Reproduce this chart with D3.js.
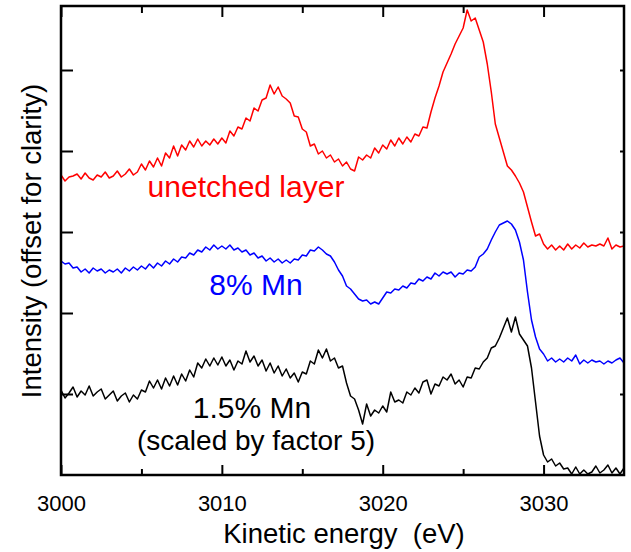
<!DOCTYPE html>
<html>
<head>
<meta charset="utf-8">
<script src="https://cdn.jsdelivr.net/npm/d3@7"></script>
<style>
  html, body { margin: 0; padding: 0; background: #fff; }
  svg { display: block; font-family: "Liberation Sans", Arial, Helvetica, sans-serif; }
</style>
</head>
<body>
<svg id="chart" width="631" height="552"></svg>
<script>
// ---------- data ----------
const energyStart = 3000;      // eV, first sample
const energyStep = 0.25;       // eV, sample spacing
const xDomain = [3000, 3035];
const yDomain = [0, 469];      // arbitrary intensity units (offset for clarity)
const xMajorTicks = [3000, 3010, 3020, 3030];
const xMinorTicks = [3005, 3015, 3025];
const yTicks = [81, 162, 243, 324, 405];

const unetched = [
  300, 294, 298, 299, 301, 296, 302, 297, 295, 300,
  298, 303, 297, 299, 304, 298, 301, 306, 300, 303,
  311, 305, 314, 308, 317, 309, 322, 317, 329, 319,
  330, 325, 334, 328, 336, 329, 334, 330, 336, 331,
  337, 332, 344, 339, 348, 346, 357, 354, 367, 364,
  375, 377, 390, 381, 388, 379, 376, 372, 359, 358,
  346, 343, 329, 331, 321, 324, 317, 320, 313, 316,
  309, 313, 306, 304, 318, 315, 320, 317, 327, 322,
  330, 326, 335, 329, 337, 331, 338, 333, 341, 339,
  348, 347, 363, 377, 389, 403, 412, 421, 431, 439,
  447, 465, 454, 457, 445, 433, 411, 383, 351, 337,
  323, 309, 305, 299, 292, 283, 268, 253, 239, 241,
  231, 226, 230, 225, 229, 225, 231, 226, 230, 227,
  232, 228, 230, 229, 231, 229, 237, 226, 230, 228, 229
];

const mn8 = [
  214, 211, 212, 207, 208, 203, 206, 202, 207, 204,
  206, 202, 205, 203, 206, 202, 207, 204, 208, 205,
  209, 206, 211, 207, 212, 209, 214, 211, 216, 213,
  218, 217, 222, 220, 225, 223, 228, 225, 230, 226,
  229, 226, 230, 225, 227, 223, 225, 220, 222, 217,
  219, 214, 217, 213, 216, 212, 215, 212, 216, 215,
  220, 219, 225, 224, 228, 225, 221, 219, 213, 205,
  199, 189, 186, 181, 176, 174, 175, 171, 173, 171,
  177, 183, 182, 186, 185, 189, 187, 192, 191, 196,
  194, 198, 196, 202, 199, 203, 201, 203, 198, 202,
  201, 205, 204, 208, 218, 221, 226, 235, 243, 250,
  252, 254, 251, 245, 233, 215, 183, 155, 138, 126,
  121, 114, 117, 113, 116, 113, 117, 114, 120, 111,
  115, 112, 115, 113, 114, 111, 114, 112, 115, 117, 112
];

const mn15 = [
  85, 77, 82, 88, 78, 84, 80, 89, 79, 83,
  86, 76, 80, 84, 74, 79, 82, 73, 80, 76,
  85, 83, 94, 87, 95, 86, 97, 89, 99, 90,
  101, 94, 105, 98, 112, 107, 116, 109, 117, 110,
  118, 109, 115, 105, 114, 111, 124, 113, 119, 109,
  115, 104, 112, 102, 109, 99, 106, 97, 102, 93,
  103, 101, 114, 111, 125, 117, 126, 114, 117, 107,
  109, 92, 79, 76, 65, 51, 71, 59, 65, 62,
  69, 63, 83, 73, 75, 72, 83, 80, 87, 82,
  93, 95, 81, 91, 89, 98, 95, 101, 91, 95,
  88, 98, 97, 107, 106, 113, 117, 127, 129, 137,
  147, 157, 143, 158, 141, 135, 129, 107, 73, 39,
  20, 13, 16, 9, 12, 6, 7, 1, 8, 1,
  5, 1, 3, 9, 2, 5, 10, 2, 7, 1, 7
];

const seriesList = [
  { name: "unetched layer", values: unetched, color: "#ff0000" },
  { name: "8% Mn", values: mn8, color: "#0000ff" },
  { name: "1.5% Mn", values: mn15, color: "#000000" }
];

// ---------- layout ----------
const svg = d3.select("#chart");
const m = { left: 61, right: 624, top: 6, bottom: 475 };

const x = d3.scaleLinear().domain(xDomain).range([m.left, m.right]);
const y = d3.scaleLinear().domain(yDomain).range([m.bottom, m.top]);

svg.append("defs").append("clipPath").attr("id", "plotclip")
  .append("rect").attr("x", m.left).attr("y", m.top)
  .attr("width", m.right - m.left).attr("height", m.bottom - m.top);

// lines
const line = d3.line()
  .x((d, i) => x(energyStart + i * energyStep))
  .y(d => y(d));

const g = svg.append("g").attr("clip-path", "url(#plotclip)");
seriesList.forEach(s => {
  g.append("path")
    .datum(s.values)
    .attr("fill", "none")
    .attr("stroke", s.color)
    .attr("stroke-width", 1.5)
    .attr("stroke-linejoin", "round")
    .attr("d", line);
});

// axes
function styleAxis(sel) {
  sel.select(".domain").remove();
  sel.selectAll(".tick line").attr("stroke", "#000").attr("stroke-width", 2);
}

svg.append("g").attr("transform", `translate(0,${m.bottom})`)
  .call(d3.axisBottom(x).tickValues(xMajorTicks).tickSize(-10).tickPadding(20).tickFormat(d3.format("d")))
  .call(styleAxis)
  .call(s => s.selectAll("text").attr("font-size", 22).attr("fill", "#000")
    .attr("font-family", "Liberation Sans, Arial, sans-serif"));

svg.append("g").attr("transform", `translate(0,${m.bottom})`)
  .call(d3.axisBottom(x).tickValues(xMinorTicks).tickSize(-6).tickFormat(""))
  .call(styleAxis);

svg.append("g").attr("transform", `translate(0,${m.top})`)
  .call(d3.axisTop(x).tickValues(xMajorTicks).tickSize(-11).tickFormat(""))
  .call(styleAxis);

svg.append("g").attr("transform", `translate(0,${m.top})`)
  .call(d3.axisTop(x).tickValues(xMinorTicks).tickSize(-7).tickFormat(""))
  .call(styleAxis);

svg.append("g").attr("transform", `translate(${m.left},0)`)
  .call(d3.axisLeft(y).tickValues(yTicks).tickSize(-12).tickFormat(""))
  .call(styleAxis);

svg.append("g").attr("transform", `translate(${m.right},0)`)
  .call(d3.axisRight(y).tickValues(yTicks).tickSize(-4).tickFormat(""))
  .call(styleAxis);

// frame
svg.append("rect")
  .attr("x", m.left).attr("y", m.top)
  .attr("width", m.right - m.left).attr("height", m.bottom - m.top)
  .attr("fill", "none").attr("stroke", "#000").attr("stroke-width", 2.5);

// axis titles
svg.append("text")
  .attr("x", 344).attr("y", 543)
  .attr("text-anchor", "middle").attr("font-size", 27.5).attr("fill", "#000")
  .text("Kinetic energy\u00a0\u00a0(eV)");

svg.append("text")
  .attr("transform", `translate(41,${241}) rotate(-90)`)
  .attr("text-anchor", "middle").attr("font-size", 27.5).attr("fill", "#000")
  .text("Intensity (offset for clarity)");

// annotations
const labels = [
  { text: "unetched layer", cx: 246, by: 197, size: 30, color: "#ff0000" },
  { text: "8% Mn", cx: 256, by: 295, size: 30, color: "#0000ff" },
  { text: "1.5% Mn", cx: 252, by: 418, size: 30, color: "#000000" },
  { text: "(scaled by factor 5)", cx: 256, by: 450, size: 28, color: "#000000" }
];
labels.forEach(l => {
  svg.append("text")
    .attr("x", l.cx).attr("y", l.by)
    .attr("text-anchor", "middle")
    .attr("font-size", l.size)
    .attr("fill", l.color)
    .text(l.text);
});
</script>
</body>
</html>
